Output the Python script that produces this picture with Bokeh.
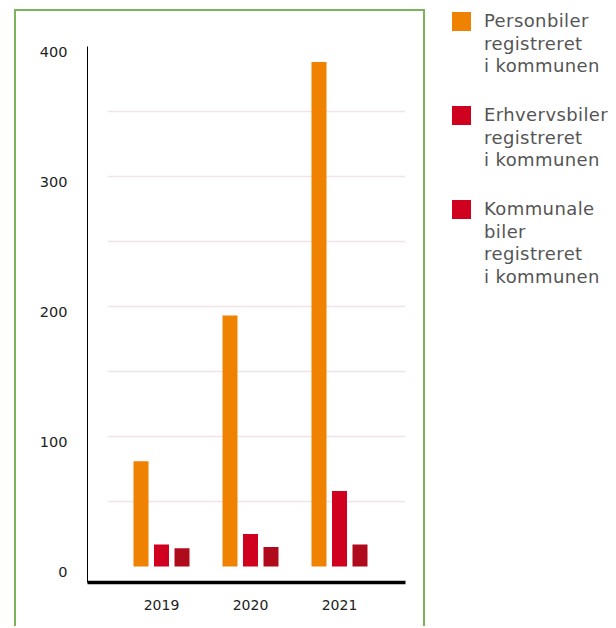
from bokeh.plotting import figure
from bokeh.models import (Range1d, LinearAxis, FixedTicker, ColumnDataSource, Grid, Div)
from bokeh.transform import dodge
from bokeh.layouts import row
from bokeh.embed import file_html
from bokeh.resources import INLINE

# ---- data ----
years = [2019, 2020, 2021]
personbiler = [81, 193, 388]
erhvervsbiler = [17, 25, 58]
kommunale = [14, 15, 17]
y_ticks = [0, 100, 200, 300, 400]
grid_ticks = [50, 100, 150, 200, 250, 300, 350, 400]
series_labels = [["Personbiler", "registreret", "i kommunen"],
                 ["Erhvervsbiler", "registreret", "i kommunen"],
                 ["Kommunale", "biler", "registreret", "i kommunen"]]

# ---- styles ----
ORANGE = "#ef8200"
RED = "#d0001f"
DARK_RED = "#b00b1c"
LEGEND_COLORS = [ORANGE, RED, RED]
GREEN = "#7ab55c"
FONT = "DejaVu Sans"

source = ColumnDataSource(dict(year=years, personbiler=personbiler,
                               erhvervsbiler=erhvervsbiler, kommunale=kommunale))

x_range = Range1d(2018.1685, 2021.7416)
y_range = Range1d(-12.31, 400)

p = figure(width=411, height=617, x_range=x_range, y_range=y_range,
           x_axis_type=None, y_axis_type=None,
           output_backend="svg", toolbar_location=None,
           min_border_left=71, min_border_right=22, min_border_top=35, min_border_bottom=46,
           margin=(9, 0, 0, 14),
           styles={"border-top": f"2px solid {GREEN}",
                   "border-left": f"2px solid {GREEN}",
                   "border-right": f"2px solid {GREEN}"})
p.outline_line_color = None
p.background_fill_color = "white"
p.border_fill_color = "white"
p.xgrid.grid_line_color = None
p.ygrid.grid_line_color = None

p.extra_y_ranges = {"lbl": Range1d(-12.31 + 4.4, 400 + 4.4)}

grid = Grid(dimension=1, ticker=FixedTicker(ticks=grid_ticks),
            grid_line_color="#f1e4e8", grid_line_width=1.5)
if "cross_bounds" in Grid.properties():
    grid.cross_bounds = (2018.393, 2021.7416)
p.add_layout(grid)

xaxis = LinearAxis(ticker=FixedTicker(ticks=years))
xaxis.axis_line_color = "black"
xaxis.axis_line_width = 3.5
xaxis.major_tick_line_color = None
xaxis.minor_tick_line_color = None
xaxis.major_tick_out = 0
xaxis.major_label_standoff = 17
xaxis.major_label_text_font = FONT
xaxis.major_label_text_font_size = "14px"
xaxis.major_label_text_color = "#222222"
p.add_layout(xaxis, "below")

yaxis = LinearAxis(y_range_name="lbl", ticker=FixedTicker(ticks=y_ticks))
yaxis.axis_line_color = "black"
yaxis.axis_line_width = 1
yaxis.major_tick_line_color = None
yaxis.minor_tick_line_color = None
yaxis.major_tick_out = 0
yaxis.major_label_standoff = 20
yaxis.major_label_text_font = FONT
yaxis.major_label_text_font_size = "14.5px"
yaxis.major_label_text_color = "#222222"
p.add_layout(yaxis, "left")

BAR_W = 0.1685
OFF = 0.2303
p.vbar(x=dodge("year", -OFF, range=p.x_range), top="personbiler", bottom=0, width=BAR_W,
       source=source, fill_color=ORANGE, line_color=None)
p.vbar(x=dodge("year", 0.0, range=p.x_range), top="erhvervsbiler", bottom=0, width=BAR_W,
       source=source, fill_color=RED, line_color=None)
p.vbar(x=dodge("year", OFF, range=p.x_range), top="kommunale", bottom=0, width=BAR_W,
       source=source, fill_color=DARK_RED, line_color=None)

# ---- legend (HTML) ----
blocks = []
for lines, col in zip(series_labels, LEGEND_COLORS):
    blocks.append(
        '<div style="display:flex;align-items:flex-start;margin-bottom:26.5px;">'
        f'<span style="flex:none;width:19px;height:19px;margin-top:2px;background:{col};"></span>'
        f'<span style="margin-left:13px;white-space:nowrap;">{"<br>".join(lines)}</span>'
        '</div>')
legend_html = (f'<div style="padding:10px 0 0 27px;font-family:\'{FONT}\';font-size:18px;'
               f'letter-spacing:0.4px;line-height:22.5px;color:#555555;">'
               + "".join(blocks) + '</div>')
legend = Div(text=legend_html, width=185, height=320, margin=(0, 0, 0, 0))

layout = row(p, legend)
open("out.html", "w").write(file_html(layout, INLINE))
